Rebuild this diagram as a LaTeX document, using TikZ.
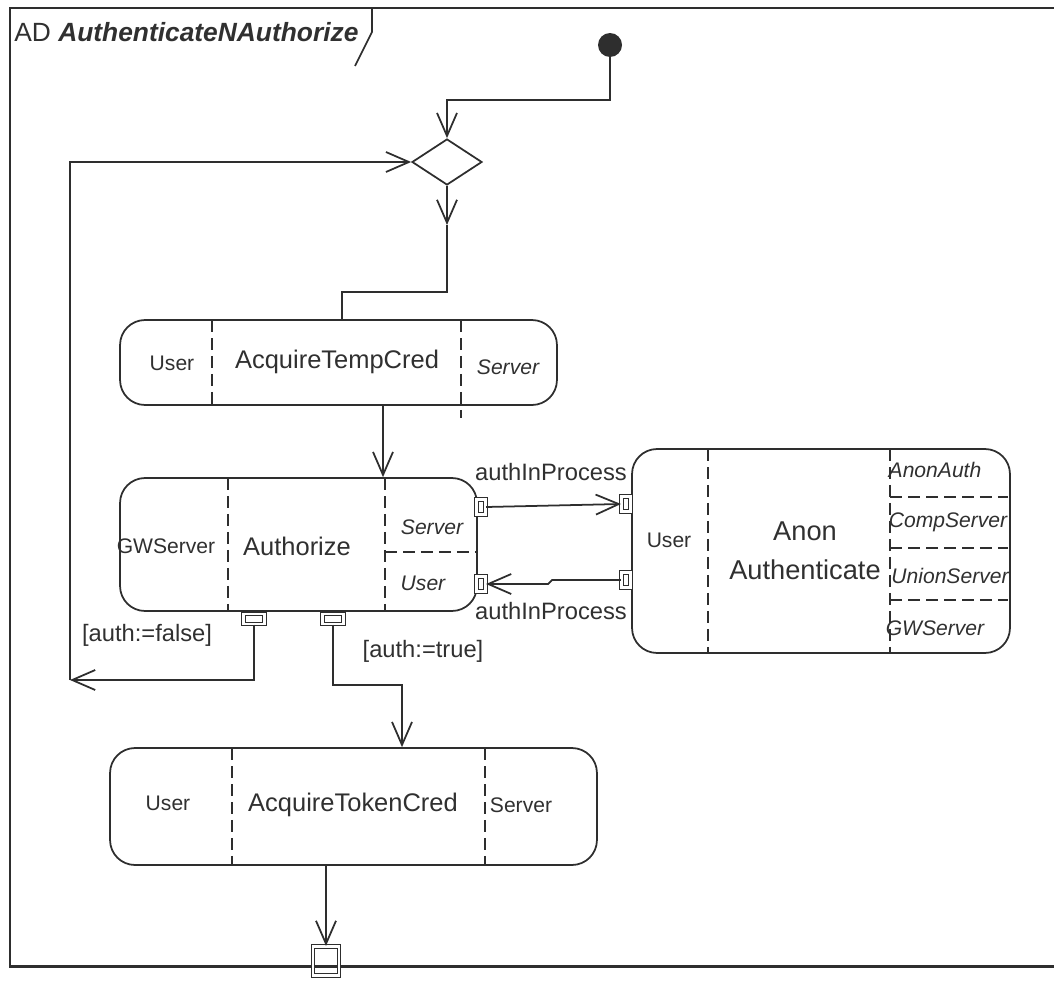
\documentclass[tikz,border=0pt]{standalone}
\usepackage{fontspec}
\setmainfont{Liberation Sans}
\usetikzlibrary{arrows.meta,shapes.geometric,calc}
\definecolor{ink}{HTML}{2E2E2E}
\definecolor{txt}{HTML}{303030}

\tikzset{
  line/.style={draw=ink, line width=1pt},
  flow/.style={line, -{Straight Barb[length=0.46cm, width=0.40cm, line width=1pt]}},
  frame/.style={draw=ink, line width=1.7pt},
  act/.style={draw=ink, line width=1pt, rounded corners=0.5cm, inner sep=0pt},
  div/.style={draw=ink, line width=1pt, dash pattern=on 0.24cm off 0.12cm},
  pinv/.style={draw=ink, line width=0.6pt, double, double distance=1.3pt, inner sep=0pt, minimum width=0.18cm, minimum height=0.30cm},
  pinh/.style={pinv, minimum width=0.42cm, minimum height=0.2cm},
  pinout/.style={pinv, minimum width=0.52cm, minimum height=0.58cm},
  big/.style={text=txt, inner sep=0pt, font=\fontsize{14.5}{17}\selectfont},
  small/.style={text=txt, inner sep=0pt, font=\fontsize{12}{14}\selectfont},
  role/.style={small, font=\fontsize{12}{14}\selectfont\itshape},
  lbl/.style={text=txt, inner sep=0pt, font=\fontsize{13.5}{16}\selectfont},
}

\begin{document}
\begin{tikzpicture}[x=0.02cm, y=-0.02cm]
\useasboundingbox (0,0) rectangle (1054,980);
\clip (0,0) rectangle (1054,980);

% diagram frame and its name tab
\draw[frame] (1070,8) -- (10,8) -- (10,966) -- (1070,966);
\draw[line] (372,8) -- (372,32) -- (355,66);
\node[anchor=base west, inner sep=0pt, text=txt, font=\fontsize{15}{18}\selectfont] (title) at (14,42)
  {AD \textbf{\textit{AuthenticateNAuthorize}}};

% control nodes
\node[circle, fill=ink, minimum size=0.48cm, inner sep=0pt] (init) at (610,45) {};
\node[diamond, draw=ink, line width=1pt, minimum width=1.4cm, minimum height=0.92cm, inner sep=0pt] (dia) at (447,162) {};

% actions
\node[act, minimum width=8.74cm, minimum height=1.7cm] (atc) at (338.5,362.5) {};
\node[act, minimum width=7.14cm, minimum height=2.66cm] (auth) at (298.5,544.5) {};
\node[act, minimum width=7.56cm, minimum height=4.08cm] (anon) at (821,551) {};
\node[act, minimum width=9.74cm, minimum height=2.34cm] (token) at (353.5,806.5) {};

% partition dividers
\draw[div] (212,320) -- (212,405);
\draw[div] (461,320) -- (461,418);
\draw[div] (228,478) -- (228,611);
\draw[div] (385,478) -- (385,611);
\draw[div] (385,552) -- (477,552);
\draw[div] (708,449) -- (708,653);
\draw[div] (890,449) -- (890,653);
\draw[div] (890,497) -- (1008,497);
\draw[div] (890,548) -- (1008,548);
\draw[div] (890,600) -- (1008,600);
\draw[div] (232,748) -- (232,865);
\draw[div] (485,748) -- (485,865);

% action texts
\node[small] (t1) at (172,363) {User};
\node[big]   (t2) at (337,362) {AcquireTempCred};
\node[role]  (t3) at (508,367) {Server};
\node[small] (t4) at (166,546) {GWServer};
\node[big]   (t5) at (297,546) {Authorize};
\node[role]  (t6) at (432,527) {Server};
\node[role]  (t7) at (423,583) {User};
\node[small] (t8) at (669,540) {User};
\node[big, align=center, font=\fontsize{15.5}{22}\selectfont] (t9) at (805,551) {Anon\\Authenticate};
\node[role]  (t10) at (935,470) {AnonAuth};
\node[role]  (t11) at (948,522) {CompServer};
\node[role]  (t12) at (950,576) {UnionServer};
\node[role]  (t13) at (935,628) {GWServer};
\node[small] (t14) at (168,803) {User};
\node[big]   (t15) at (353,805) {AcquireTokenCred};
\node[small] (t16) at (521,805) {Server};

% pins
\node[pinv] (p1) at (481,507) {};
\node[pinv] (p2) at (481,584) {};
\node[pinv] (p3) at (626,504) {};
\node[pinv] (p4) at (626,580) {};
\node[pinh] (p5) at (254,619) {};
\node[pinh] (p6) at (333,619) {};
\node[pinout] (p7) at (326,961) {};

% control flow
\coordinate (mid) at (447,225);
\coordinate (back) at (70,680);
\draw[flow] (init) -- (init |- 0,100) -- (dia.north |- 0,100) -- (dia.north);
\draw[flow] (dia.south) -- (mid);
\draw[line] (mid) -- (mid |- 0,292) -- (342,292) -- (atc.north -| 342,0);
\draw[flow] (atc.south -| 383,0) -- (auth.north -| 383,0);
\draw[flow] (p1.east) -- (p3.west);
\draw[flow] (p4.west) -- (552,580) -- (548,584) -- (p2.east);
\draw[flow] (p5.south) -- (p5.south |- back) -- (back);
\draw[flow] (back) -- (back |- dia.west) -- (dia.west);
\draw[flow] (p6.south) -- (p6.south |- 0,685) -- (402,685) -- (token.north -| 402,0);
\draw[flow] (p7.north |- token.south) -- (p7.north);

% flow labels
\node[lbl] (l1) at (551,472) {authInProcess};
\node[lbl] (l2) at (551,611) {authInProcess};
\node[lbl] (l3) at (147,635) {[auth:=false]};
\node[lbl] (l4) at (423,651) {[auth:=true]};
\end{tikzpicture}
\end{document}
